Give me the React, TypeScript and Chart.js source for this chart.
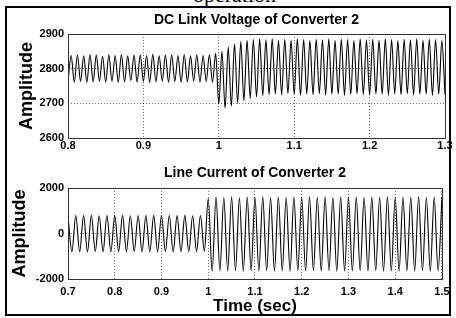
import React, { useEffect, useRef } from 'react';
import { Chart, registerables } from 'chart.js';

Chart.register(...registerables);

const SANS = '"Liberation Sans", Arial, Helvetica, sans-serif';
const SERIF = '"Liberation Serif", "Times New Roman", serif';

const CAPTION = 'operation';
const TOP_TITLE = 'DC Link Voltage of Converter 2';
const BOT_TITLE = 'Line Current of Converter 2';
const Y_TITLE = 'Amplitude';
const X_TITLE = 'Time (sec)';

const TOP_X_TICKS = [0.8, 0.9, 1.0, 1.1, 1.2, 1.3];
const TOP_X_LABELS = ['0.8', '0.9', '1', '1.1', '1.2', '1.3'];
const TOP_Y_TICKS = [2600, 2700, 2800, 2900];
const TOP_Y_LABELS = ['2600', '2700', '2800', '2900'];

const BOT_X_TICKS = [0.7, 0.8, 0.9, 1.0, 1.1, 1.2, 1.3, 1.4, 1.5];
const BOT_X_LABELS = ['0.7', '0.8', '0.9', '1', '1.1', '1.2', '1.3', '1.4', '1.5'];
const BOT_Y_TICKS = [-2000, 0, 2000];
const BOT_Y_LABELS = ['-2000', '0', '2000'];

// DC link voltage: successive troughs / peaks, sampled every half ripple period
const TOP_T0 = 0.8;
const TOP_DT = 1 / 240;
const TOP_V = [
  2764, 2838, 2761, 2840, 2763, 2837, 2760, 2841, 2762, 2839,
  2764, 2836, 2761, 2840, 2763, 2838, 2760, 2841, 2762, 2837,
  2765, 2839, 2761, 2840, 2763, 2838, 2760, 2842, 2762, 2837,
  2764, 2839, 2761, 2840, 2763, 2838, 2760, 2841, 2762, 2837,
  2764, 2840, 2761, 2838, 2763, 2841, 2760, 2844,
  2698, 2850, 2686, 2862, 2692, 2872, 2700, 2878, 2708, 2882,
  2714, 2884, 2718, 2886, 2722,
  2883, 2725, 2886, 2727, 2881, 2724, 2885, 2728, 2882, 2726,
  2886, 2723, 2884, 2727, 2881, 2725, 2885, 2728, 2883, 2724,
  2886, 2726, 2882, 2727, 2885, 2723, 2884, 2726, 2881, 2728,
  2886, 2725, 2883, 2724, 2885, 2727, 2882, 2726, 2886, 2723,
  2884, 2727, 2881, 2725, 2885, 2728, 2883, 2724, 2886, 2726,
  2882, 2727, 2885, 2723, 2884, 2726, 2881, 2725,
];

// Line current: successive peaks / troughs, sampled every half cycle
const BOT_T0 = 0.7;
const BOT_DT = 1 / 120;
const BOT_V = [
  760, -800, 790, -795, 785, -805, 795, -790, 780, -800,
  790, -805, 785, -795, 795, -800, 780, -790, 790, -805,
  785, -795, 795, -800, 780, -790, 790, -805, 785, -795,
  795, -800, 780, -790, 790, -780,
  1540, -1660, 1600, -1640, 1580, -1650, 1610, -1630, 1570, -1660,
  1600, -1640, 1590, -1650, 1610, -1635, 1575, -1655, 1600, -1645,
  1590, -1660, 1605, -1630, 1580, -1650, 1600, -1640, 1595, -1655,
  1610, -1635, 1575, -1660, 1600, -1645, 1590, -1650, 1605, -1640,
  1580, -1655, 1600, -1635, 1595, -1660, 1610, -1645, 1575, -1650,
  1600, -1640, 1590, -1655, 1605, -1635, 1580, -1660, 1600, -1645,
  1590,
];

const boxPlugin = {
  id: 'matlabBox',
  afterDatasetsDraw(chart: any) {
    const { ctx, chartArea: a } = chart;
    ctx.save();
    ctx.strokeStyle = '#333';
    ctx.lineWidth = 1;
    ctx.setLineDash([]);
    ctx.strokeRect(
      Math.round(a.left) + 0.5,
      Math.round(a.top) + 0.5,
      Math.round(a.right - a.left),
      Math.round(a.bottom - a.top)
    );
    ctx.restore();
  },
};

type PlotSpec = {
  title: string;
  titlePad: { top: number; bottom: number };
  t0: number;
  dt: number;
  values: number[];
  xMin: number;
  xMax: number;
  xTicks: number[];
  xLabels: string[];
  yMin: number;
  yMax: number;
  yTicks: number[];
  yLabels: string[];
  xHeight: number;
  xTickPad: number;
  xTitle: string | null;
  xTitlePadBottom: number;
  yTitlePadTop: number;
};

function makeConfig(p: PlotSpec): any {
  const tickFont = { family: SANS, size: 11, weight: 'bold' as const };
  const grid = { color: 'rgba(0,0,0,0.55)', lineWidth: 1, drawTicks: false };
  return {
    type: 'line',
    data: {
      datasets: [
        {
          data: p.values.map((v, i) => ({ x: p.t0 + i * p.dt, y: v })),
          borderColor: '#000',
          borderWidth: 1.1,
          pointRadius: 0,
          fill: false,
          cubicInterpolationMode: 'monotone',
        },
      ],
    },
    options: {
      responsive: false,
      maintainAspectRatio: false,
      animation: false,
      events: [],
      layout: { padding: { left: 0, right: 11, top: 0, bottom: 0 } },
      plugins: {
        legend: { display: false },
        tooltip: { enabled: false },
        title: {
          display: true,
          text: p.title,
          fullSize: false,
          color: '#000',
          font: { family: SANS, size: 14, weight: 'bold' },
          padding: p.titlePad,
        },
      },
      scales: {
        x: {
          type: 'linear',
          min: p.xMin,
          max: p.xMax,
          afterBuildTicks: (s: any) => {
            s.ticks = p.xTicks.map((v) => ({ value: v }));
          },
          afterFit: (s: any) => {
            s.height = p.xHeight;
          },
          ticks: {
            autoSkip: false,
            maxRotation: 0,
            minRotation: 0,
            padding: p.xTickPad,
            color: '#000',
            font: tickFont,
            callback: (_v: any, i: number) => p.xLabels[i],
          },
          grid,
          border: { display: false, dash: [1, 2] },
          title: p.xTitle
            ? {
                display: true,
                text: p.xTitle,
                color: '#000',
                font: { family: SANS, size: 17, weight: 'bold' },
                padding: { top: 0, bottom: p.xTitlePadBottom },
              }
            : { display: false },
        },
        y: {
          type: 'linear',
          min: p.yMin,
          max: p.yMax,
          afterBuildTicks: (s: any) => {
            s.ticks = p.yTicks.map((v) => ({ value: v }));
          },
          afterFit: (s: any) => {
            s.width = 68;
          },
          ticks: {
            autoSkip: false,
            padding: 4,
            color: '#000',
            font: tickFont,
            callback: (_v: any, i: number) => p.yLabels[i],
          },
          grid,
          border: { display: false, dash: [1, 2] },
          title: {
            display: true,
            text: Y_TITLE,
            color: '#000',
            font: { family: SANS, size: 18, weight: 'bold' },
            padding: { top: p.yTitlePadTop, bottom: 0 },
          },
        },
      },
    },
    plugins: [boxPlugin],
  };
}

const TOP_SPEC: PlotSpec = {
  title: TOP_TITLE,
  titlePad: { top: 11.6, bottom: 5.6 },
  t0: TOP_T0,
  dt: TOP_DT,
  values: TOP_V,
  xMin: 0.8,
  xMax: 1.3,
  xTicks: TOP_X_TICKS,
  xLabels: TOP_X_LABELS,
  yMin: 2600,
  yMax: 2900,
  yTicks: TOP_Y_TICKS,
  yLabels: TOP_Y_LABELS,
  xHeight: 22,
  xTickPad: 1.5,
  xTitle: null,
  xTitlePadBottom: 0,
  yTitlePadTop: 16,
};

const BOT_SPEC: PlotSpec = {
  title: BOT_TITLE,
  titlePad: { top: 9.6, bottom: 6.6 },
  t0: BOT_T0,
  dt: BOT_DT,
  values: BOT_V,
  xMin: 0.7,
  xMax: 1.5,
  xTicks: BOT_X_TICKS,
  xLabels: BOT_X_LABELS,
  yMin: -2000,
  yMax: 2000,
  yTicks: BOT_Y_TICKS,
  yLabels: BOT_Y_LABELS,
  xHeight: 39,
  xTickPad: 6.4,
  xTitle: X_TITLE,
  xTitlePadBottom: 1.1,
  yTitlePadTop: 9.2,
};

function PlotCanvas({ spec, top, height }: { spec: PlotSpec; top: number; height: number }) {
  const ref = useRef<HTMLCanvasElement | null>(null);
  useEffect(() => {
    if (!ref.current) return;
    const chart = new Chart(ref.current, makeConfig(spec));
    return () => chart.destroy();
  }, [spec]);
  return (
    <canvas
      ref={ref}
      width={456}
      height={height}
      style={{ position: 'absolute', left: 0, top, width: 456, height, zIndex: 3 }}
    />
  );
}

export default function App() {
  return (
    <div
      style={{
        position: 'fixed',
        left: 0,
        top: 0,
        width: 456,
        height: 318,
        background: '#fff',
        overflow: 'hidden',
      }}
    >
      <div
        style={{
          position: 'absolute',
          left: 193,
          top: -16,
          fontFamily: SERIF,
          fontSize: 22,
          lineHeight: '22px',
          whiteSpace: 'nowrap',
          color: '#000',
          zIndex: 1,
        }}
      >
        {CAPTION}
      </div>
      <div
        style={{
          position: 'absolute',
          left: 5,
          top: 6,
          width: 446,
          height: 310,
          boxSizing: 'border-box',
          border: '2px solid #000',
          background: '#fff',
          zIndex: 2,
        }}
      />
      <PlotCanvas spec={TOP_SPEC} top={0} height={160} />
      <PlotCanvas spec={BOT_SPEC} top={155} height={163} />
    </div>
  );
}
